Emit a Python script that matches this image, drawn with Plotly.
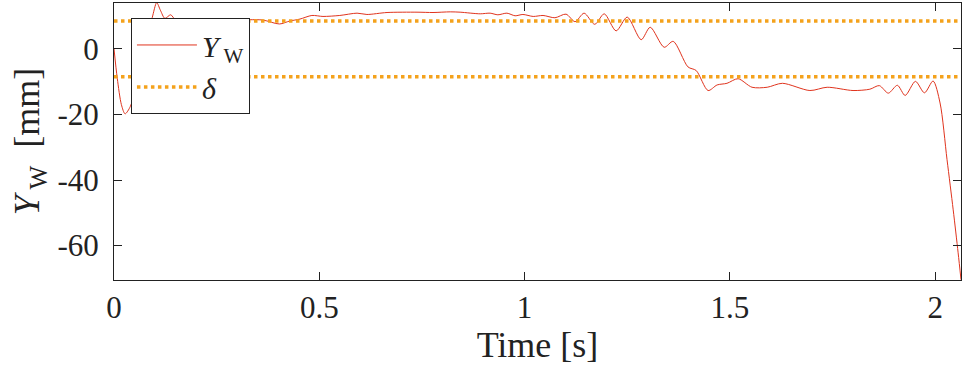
import plotly.graph_objects as go

# Time samples [s] and lateral displacement Y_W [mm]
time_s = [0.000, 0.008, 0.018, 0.027, 0.040, 0.060, 0.082, 0.093, 0.104, 0.113,
          0.124, 0.138, 0.150, 0.175, 0.200, 0.240, 0.290, 0.330, 0.363, 0.403,
          0.428, 0.453, 0.482, 0.509, 0.550, 0.592, 0.616, 0.665, 0.738, 0.777,
          0.819, 0.843, 0.892, 0.916, 0.935, 0.957, 0.977, 0.996, 1.021, 1.045,
          1.074, 1.101, 1.123, 1.145, 1.171, 1.194, 1.223, 1.250, 1.284, 1.306,
          1.340, 1.362, 1.398, 1.418, 1.447, 1.469, 1.493, 1.520, 1.554, 1.591,
          1.628, 1.695, 1.737, 1.800, 1.841, 1.864, 1.886, 1.908, 1.927, 1.952,
          1.974, 1.995, 2.012, 2.029, 2.044, 2.056, 2.063]
y_w = [0.0, -9.0, -17.0, -19.8, -17.5, -8.0, 5.0, 9.5, 14.1, 11.8,
       9.3, 10.4, 8.8, 8.2, 8.5, 8.7, 8.8, 8.9, 8.8, 7.6,
       8.5, 9.1, 10.2, 9.9, 10.2, 10.9, 10.5, 11.1, 11.2, 11.1,
       11.3, 11.2, 10.7, 10.9, 10.4, 10.9, 10.1, 10.5, 9.9, 10.2,
       9.5, 10.6, 8.3, 10.9, 7.5, 10.7, 5.5, 9.7, 2.8, 6.6,
       0.5, 2.3, -5.5, -6.6, -12.7, -11.0, -10.5, -9.1, -11.7, -11.7,
       -10.5, -12.7, -11.7, -12.7, -12.3, -11.2, -13.5, -11.1, -14.2, -9.9,
       -13.4, -9.8, -16.5, -33.8, -49.1, -62.2, -70.4]

delta = 8.5
t_range = [0.0, 2.063]
x_ticks = [0, 0.5, 1, 1.5, 2]
x_tick_text = ["0", "0.5", "1", "1.5", "2"]
y_ticks = [0, -20, -40, -60]
y_tick_text = ["0", "-20", "-40", "-60"]

FONT = "Liberation Serif"
RED = "#e0341e"
ORANGE = "#f4a21c"

fig = go.Figure()
fig.add_trace(go.Scatter(
    x=time_s, y=y_w, mode="lines", line=dict(color=RED, width=1, shape="spline", smoothing=0.8),
    name="<i>Y</i><sub> W</sub>"))
fig.add_trace(go.Scatter(
    x=t_range, y=[delta, delta], mode="lines", line=dict(color=ORANGE, width=3.5, dash="dot"),
    name="<i>δ</i>"))
fig.add_trace(go.Scatter(
    x=t_range, y=[-delta, -delta], mode="lines", line=dict(color=ORANGE, width=3.5, dash="dot"),
    showlegend=False))

axis_common = dict(
    showline=True, linecolor="#222", linewidth=1, mirror="ticks",
    ticks="inside", ticklen=8, tickcolor="#222", tickwidth=1,
    showgrid=False, zeroline=False, automargin=False,
    tickfont=dict(family=FONT, size=31, color="#222"),
)

fig.update_layout(
    width=965, height=377,
    margin=dict(l=114, r=4, t=3, b=97),
    paper_bgcolor="white", plot_bgcolor="white",
    font=dict(family=FONT, size=31, color="#222"),
    xaxis=dict(range=t_range, tickvals=x_ticks, ticktext=x_tick_text,
               title=dict(text="Time [s]", font=dict(family=FONT, size=36), standoff=2),
               ticklabelstandoff=0, **axis_common),
    yaxis=dict(range=[-70.5, 14], tickvals=y_ticks, ticktext=y_tick_text,
               title=dict(text="<i>Y</i><sub> W</sub>  [mm]", font=dict(family=FONT, size=36), standoff=6),
               ticklabelstandoff=8, **axis_common),
    legend=dict(x=0.02, y=0.946, xanchor="left", yanchor="top",
                bordercolor="#222", borderwidth=1, bgcolor="white",
                font=dict(family=FONT, size=30), itemwidth=60,
                tracegroupgap=0),
    showlegend=True,
)

fig.write_html(
    "out.html",
    config={"displayModeBar": False},
    post_script="document.body.style.margin='0';document.body.style.overflow='hidden';",
)
